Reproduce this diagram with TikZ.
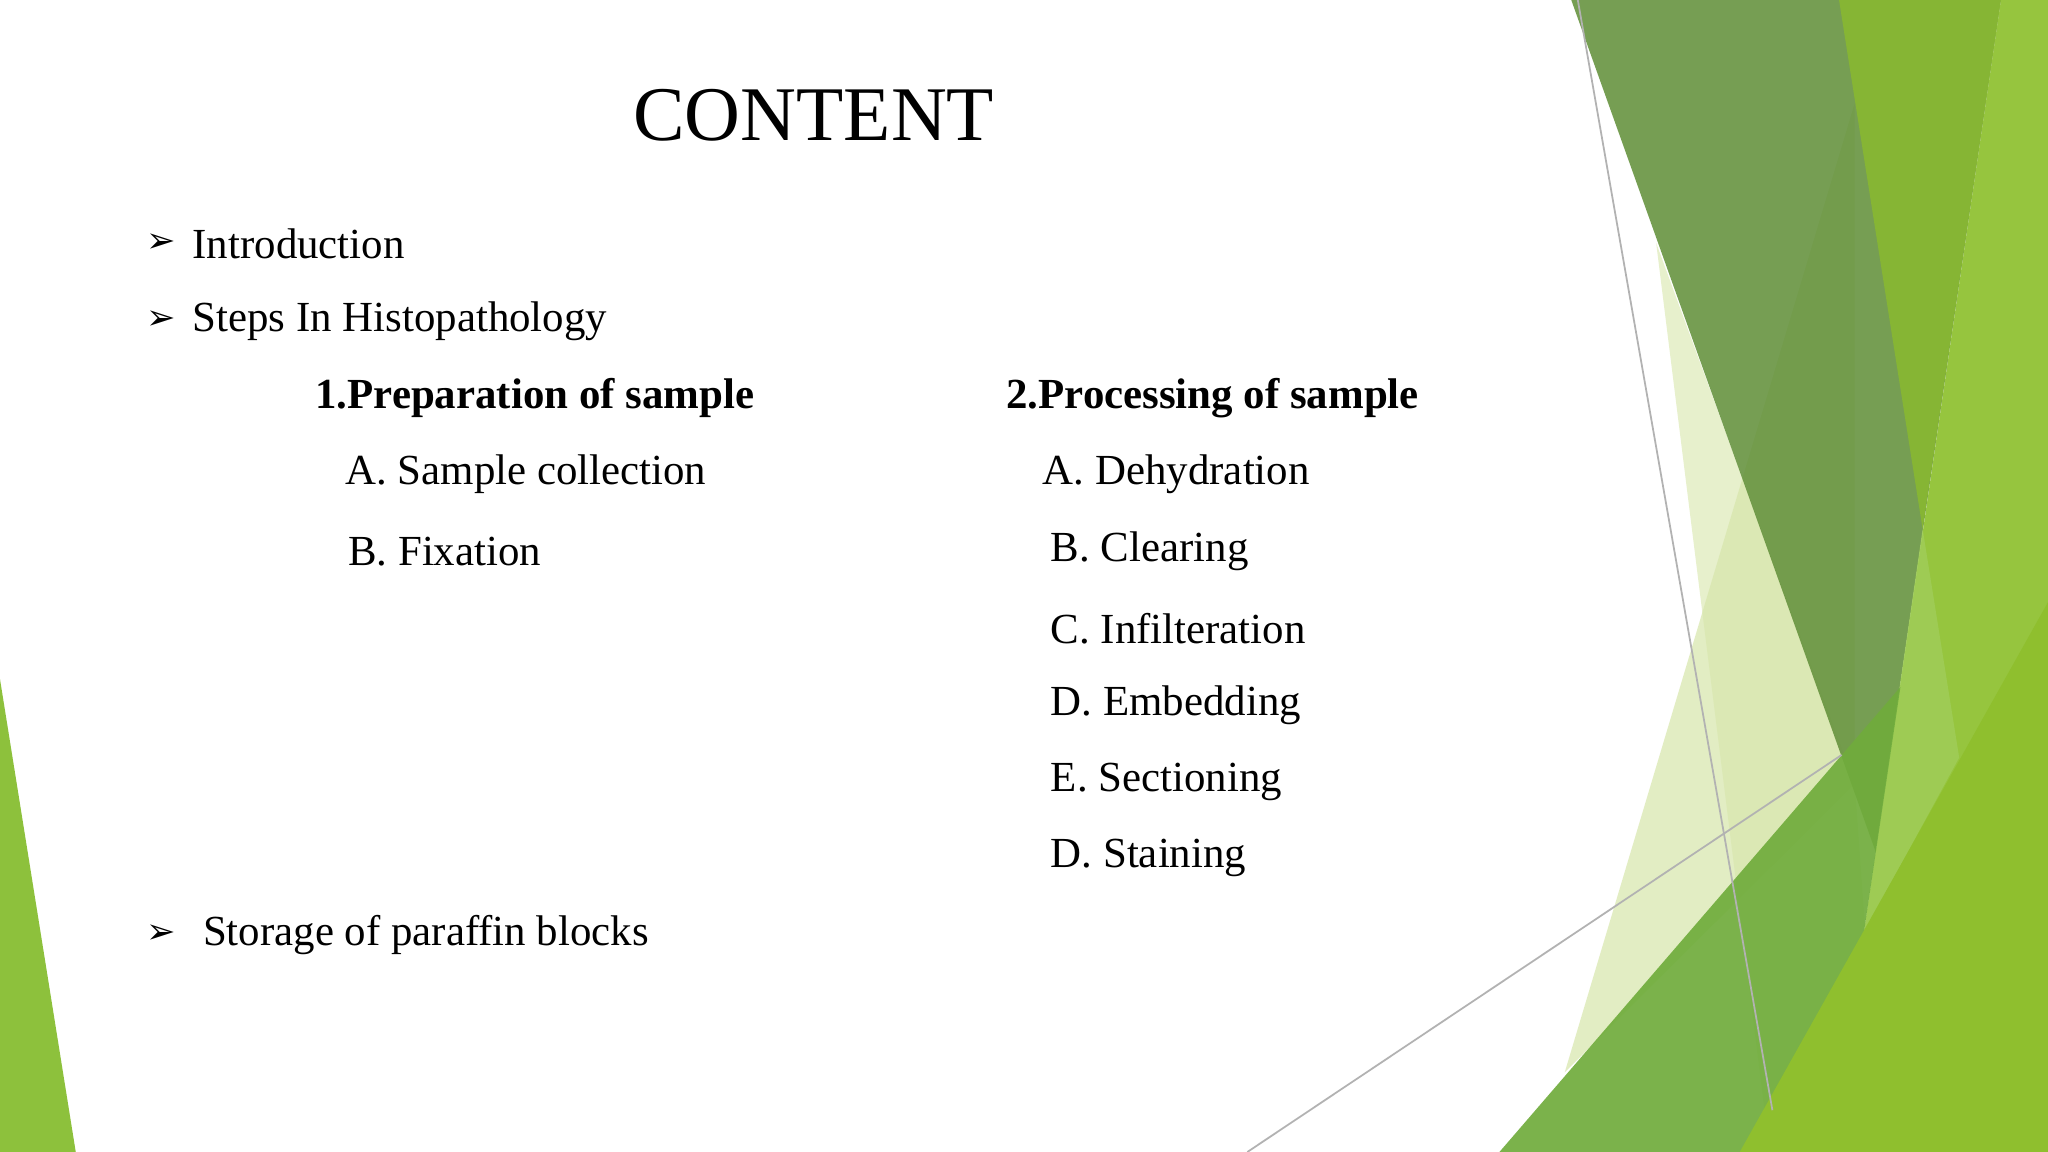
\documentclass[tikz,border=0pt]{standalone}
\usepackage{fontspec}
\setmainfont{Liberation Serif}
\newfontfamily\dejavu{DejaVu Sans}
\definecolor{cleft}{RGB}{141,193,60}
\definecolor{cpale}{RGB}{215,230,170}
\definecolor{cdark}{RGB}{100,145,60}
\definecolor{cband}{RGB}{134,181,52}
\definecolor{cright}{RGB}{150,197,62}
\definecolor{clite}{RGB}{160,205,90}
\definecolor{cmid}{RGB}{112,172,60}
\definecolor{cbright}{RGB}{143,191,46}
\begin{document}
\begin{tikzpicture}[x=0.013061cm,y=-0.013061cm,
  txt/.style={anchor=west,inner sep=0pt,font=\fontsize{12.2pt}{14pt}\selectfont},
  bul/.style={anchor=west,inner sep=0pt,font=\dejavu\fontsize{10pt}{12pt}\selectfont},
  thin/.style={draw=gray!60,line width=0.5pt}]
\useasboundingbox (0,0) rectangle (1568,882);
\fill[white] (0,0) rectangle (1568,882);
\fill[cleft] (0,520) -- (58,882) -- (0,882) -- cycle;
\fill[cpale,opacity=0.7] (1420,79) -- (1198,821) -- (1420,600) -- cycle;
\fill[cpale,opacity=0.6] (1268,186) -- (1355,882) -- (1440,882) -- (1420,600) -- cycle;
\fill[cdark,opacity=0.88] (1203,0) -- (1532,0) -- (1436,652) -- cycle;
\fill[cband] (1408,0) -- (1532,0) -- (1472,405) -- cycle;
\fill[cright] (1532,0) -- (1568,0) -- (1568,882) -- (1402,882) -- (1427,714) -- cycle;
\fill[clite,opacity=0.8] (1472,405) -- (1500,580) -- (1427,714) -- cycle;
\fill[cmid,opacity=0.92] (1148,882) -- (1455,526) -- (1402,882) -- cycle;
\fill[cbright] (1332,882) -- (1568,461) -- (1568,882) -- cycle;
\coordinate (l1a) at (1208,0); \coordinate (l1b) at (1357,850);
\coordinate (l2a) at (955,882); \coordinate (l2b) at (1410,578);
\draw[thin] (l1a) -- (l1b);
\draw[thin] (l2a) -- (l2b);
\node[inner sep=0pt,font=\fontsize{22pt}{26pt}\selectfont] (title) at (623,88) {CONTENT};
\node[bul] (b1) at (112,186) {➢};
\node[txt] (t1) at (147,187) {Introduction};
\node[bul] (b2) at (112,245) {➢};
\node[txt] (t2) at (147,246) {Steps In Histopathology};
\node[txt,font=\bfseries\fontsize{12.2pt}{14pt}\selectfont] (p1) at (241,305) {1.Preparation of sample};
\node[txt] (p1a) at (264,363) {A. Sample collection};
\node[txt] (p1b) at (266,422) {B. Fixation};
\node[txt,font=\bfseries\fontsize{12.2pt}{14pt}\selectfont] (p2) at (770,305) {2.Processing of sample};
\node[txt] (p2a) at (798,363) {A. Dehydration};
\node[txt] (p2b) at (804,422) {B. Clearing};
\node[txt] (p2c) at (804,481) {C. Infilteration};
\node[txt] (p2d) at (804,540) {D. Embedding};
\node[txt] (p2e) at (804,599) {E. Sectioning};
\node[txt] (p2f) at (804,657) {D. Staining};
\node[bul] (b3) at (112,715) {➢};
\node[txt] (t3) at (155,716) {Storage of paraffin blocks};
\end{tikzpicture}
\end{document}
